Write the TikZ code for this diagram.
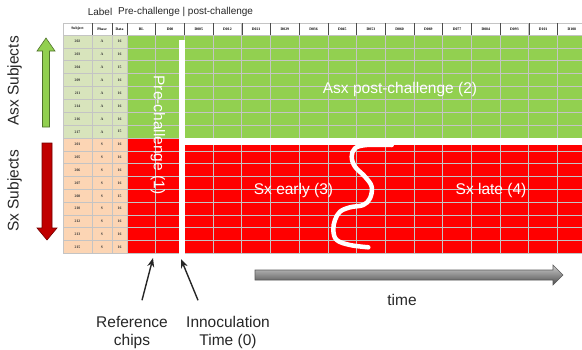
\documentclass[tikz,border=0pt]{standalone}
\usepackage{fontspec}
\setmainfont{Liberation Sans}
\newfontfamily\cellfont{Liberation Serif}
\usetikzlibrary{arrows.meta}

\definecolor{asxgreen}{HTML}{92D050}
\definecolor{sxred}{HTML}{FF0000}
\definecolor{asxlabel}{HTML}{D8E4BC}
\definecolor{sxlabel}{HTML}{FCD5B4}
\definecolor{gridgray}{HTML}{C4C4C4}
\definecolor{arrowred}{HTML}{C00000}

\tikzset{
  cell/.style={font=\cellfont\bfseries\fontsize{3.8}{4}\selectfont, inner sep=0pt, text=black!80},
  head/.style={font=\cellfont\bfseries\fontsize{3.8}{4}\selectfont, inner sep=0pt},
  big/.style={font=\fontsize{15.5}{18}\selectfont, text=black!85},
  inchip/.style={font=\fontsize{15.5}{18}\selectfont, text=white},
  ptr/.style={-{Stealth[length=9pt,width=7pt]}, line width=1.4pt, black!85},
}

\begin{document}
\begin{tikzpicture}[x=1pt,y=1pt]
	\useasboundingbox (0,0) rectangle (582,-349);
	% cell backgrounds
	\fill [asxlabel] (63,-35) rectangle (127,-138.2);
	\fill [sxlabel] (63,-138.2) rectangle (127,-253.4);
	\fill [asxgreen] (127,-35) rectangle (586.2,-138.2);
	\fill [sxred] (127,-138.2) rectangle (586.2,-253.4);
	\fill [white] (63,-23) rectangle (586.2,-35);
	% grid
	\foreach \y in {23,35,47.9,60.8,73.7,86.6,99.5,112.4,125.3,138.2,151,163.8,176.6,189.4,202.2,215,227.8,240.6,253.4}
		\draw [gridgray, line width=0.8pt] (63,-\y) -- (586.2,-\y);
	\foreach \x in {63,92,112}
		\draw [gridgray, line width=0.8pt] (\x,-23) -- (\x,-253.4);
	\foreach \k in {0,...,16}
		\draw [gridgray, line width=0.8pt] (127+\k*28.7,-23) -- (127+\k*28.7,-253.4);
	\foreach \x in {92,112}
		\draw [black!70, line width=0.6pt] (\x,-23) -- (\x,-35);
	\foreach \k in {0,...,16}
		\draw [black!70, line width=0.6pt] (127+\k*28.7,-23) -- (127+\k*28.7,-35);
	% header row
	\node [head] (hsubj) at (77.5,-29) {Subject};
	\node [head] (hphase) at (102,-29) {Phase};
	\node [head] (hdata) at (119.5,-29) {Data};
	\foreach \lab [count=\k from 0] in {BL,D00,D005,D012,D021,D029,D036,D045,D053,D060,D069,D077,D084,D093,D101,D108}
		\node [head] (h\k) at (141.35+\k*28.7,-29) {\lab};
	% subject rows
	\foreach \s/\d [count=\r from 0] in {202/16,203/16,204/15,209/16,211/16,214/16,216/16,217/15} {
		\node [cell] (as\r) at (77.5,-41.45-\r*12.9) {\s};
		\node [cell] (ap\r) at (102,-41.45-\r*12.9) {A};
		\node [cell] (ad\r) at (119.5,-41.45-\r*12.9) {\d};
	}
	\foreach \s/\d [count=\r from 0] in {201/16,205/16,206/16,207/16,208/15,210/16,212/16,213/16,215/16} {
		\node [cell] (ss\r) at (77.5,-144.6-\r*12.8) {\s};
		\node [cell] (sp\r) at (102,-144.6-\r*12.8) {S};
		\node [cell] (sd\r) at (119.5,-144.6-\r*12.8) {\d};
	}
	% white separators
	\fill [white] (179,-40) rectangle (185,-254);
	\fill [white] (185,-138.2) rectangle (586.2,-145);
	\draw [white, line width=4.5pt, line cap=round] plot [smooth, tension=0.6] coordinates {(391.7,-145) (366.7,-145) (355,-148.3) (351.7,-156.7) (355,-166.7) (365,-176.7) (371.7,-186.7) (370,-198.3) (363.3,-205) (350,-207.3) (340,-211.7) (335,-220) (333.3,-230) (336.7,-240) (350,-245) (368.3,-247.3)};
	% region labels
	\node [inchip] (asxpost) at (400,-89) {Asx post-challenge (2)};
	\node [inchip] (sxearly) at (293.5,-190) {Sx early (3)};
	\node [inchip] (sxlate) at (491,-190) {Sx late (4)};
	\node [inchip, rotate=-90] (prechal) at (158,-135) {Pre-challenge (1)};
	% top legend
	\node [font=\fontsize{10}{12}\selectfont, text=black!85] (lbl) at (100,-12) {Label};
	\node [font=\fontsize{10}{12}\selectfont, text=black!85] (phases) at (185.6,-12) {Pre-challenge | post-challenge};
	% subject groups
	\node [big, rotate=90] (asxsub) at (14.5,-81) {Asx Subjects};
	\node [big, rotate=90] (sxsub) at (14.5,-191) {Sx Subjects};
	\filldraw [fill=asxgreen, draw=asxgreen!55!black, line width=0.6pt] (42.5,-127) -- (42.5,-51) -- (37,-51) -- (46,-38) -- (55,-51) -- (49.5,-51) -- (49.5,-127) -- cycle;
	\filldraw [fill=arrowred, draw=arrowred!60!black, line width=0.6pt] (42,-143) -- (52,-143) -- (52,-228) -- (57,-228) -- (47,-240) -- (37,-228) -- (42,-228) -- cycle;
	% time axis
	\shade [top color=black!20, bottom color=black!70, draw=black!65, line width=0.6pt] (255,-270) -- (553,-270) -- (553,-265) -- (563,-275) -- (553,-285) -- (553,-280) -- (255,-280) -- cycle;
	\node [big] (time) at (402,-300) {time};
	% pointers
	\node [big, align=center] (refchips) at (132,-332) {Reference\\chips};
	\node [big, align=center] (inoc) at (228,-332) {Innoculation\\Time (0)};
	\coordinate (reftip) at (153,-258);
	\coordinate (inoctip) at (181,-259);
	\draw [ptr] ([xshift=10pt,yshift=12pt]refchips.north) -- (reftip);
	\draw [ptr] ([xshift=-30pt,yshift=12pt]inoc.north) -- (inoctip);
\end{tikzpicture}
\end{document}
